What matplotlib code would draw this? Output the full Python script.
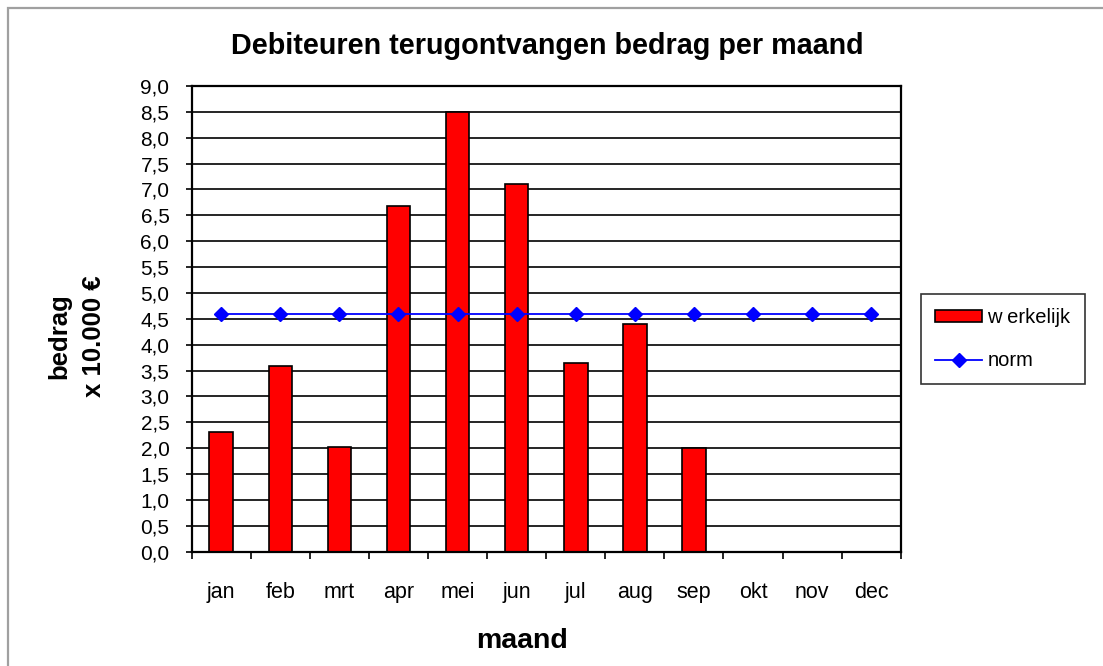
import matplotlib
matplotlib.use("Agg")
import matplotlib.pyplot as plt
from matplotlib.patches import Rectangle
import numpy as np

plt.rcParams['font.family'] = ['Liberation Sans', 'DejaVu Sans']

months = ["jan", "feb", "mrt", "apr", "mei", "jun", "jul", "aug", "sep", "okt", "nov", "dec"]
werkelijk = [2.31, 3.58, 2.03, 6.69, 8.50, 7.11, 3.64, 4.41, 2.00]
norm = [4.6] * 12
yticks = np.arange(0, 9.01, 0.5)
ytick_labels = [f"{v:.1f}".replace(".", ",") for v in yticks]

W, H = 1103, 666
fig = plt.figure(figsize=(W / 100, H / 100), dpi=100)
fig.patch.set_facecolor("white")

# outer chart border (right/bottom cropped)
fig.patches.append(Rectangle((8 / W, -0.05), 1.2, 1 - 8 / H + 0.05, transform=fig.transFigure,
                             fill=False, edgecolor="#a0a0a0", linewidth=1.6, zorder=0))

ax = fig.add_axes([191.7 / W, 1 - 551.7 / H, (900.7 - 191.7) / W, (551.7 - 86) / H])

x = np.arange(len(months))
ax.set_axisbelow(True)
ax.yaxis.grid(True, color="black", linewidth=1.2)
bars = ax.bar(x[:len(werkelijk)], werkelijk, width=0.4, color="#ff0000", edgecolor="black",
              linewidth=1.2, label="w erkelijk", zorder=2)
line, = ax.plot(x, norm, color="#0000ff", linewidth=1.3, marker="D", markersize=7,
                markerfacecolor="#0000ff", markeredgecolor="#0000ff", label="norm", zorder=3)

ax.set_xlim(-0.5, 11.5)
ax.set_ylim(0, 9)
ax.set_yticks(yticks)
ax.set_yticklabels(ytick_labels)
ax.set_xticks(np.arange(-0.5, 12, 1), minor=False)
ax.set_xticklabels([])
ax.set_xticks(x, minor=True)
ax.set_xticklabels(months, minor=True)
ax.tick_params(axis="x", which="major", direction="out", length=5, width=1.2)
ax.tick_params(axis="x", which="minor", length=0, pad=22, labelsize=15.5)
ax.tick_params(axis="y", direction="out", length=4, width=1.2, pad=12, labelsize=15)
for s in ax.spines.values():
    s.set_linewidth(1.6)
    s.set_color("black")

fig.text(547 / W, 1 - 46 / H, "Debiteuren terugontvangen bedrag per maand",
         ha="center", va="center", fontsize=20.7, fontweight="bold")
fig.text(522 / W, 1 - 641 / H, "maand", ha="center", va="center", fontsize=20.5, fontweight="bold")
fig.text(77 / W, 1 - 336 / H, "bedrag\nx 10.000 €", ha="center", va="center", rotation=90,
         fontsize=18.5, fontweight="bold", linespacing=1.55)

leg = fig.legend(handles=[bars, line], labels=["w erkelijk", "norm"],
                 loc="upper left", bbox_to_anchor=(921 / W, 1 - 294 / H),
                 frameon=True, fancybox=False, edgecolor="black", fontsize=14.5,
                 handlelength=2.35, handleheight=0.6, labelspacing=1.2, borderpad=0.7,
                 handletextpad=0.25, borderaxespad=0)
leg.get_frame().set_linewidth(1.2)

fig.savefig("out.png", dpi=100)
